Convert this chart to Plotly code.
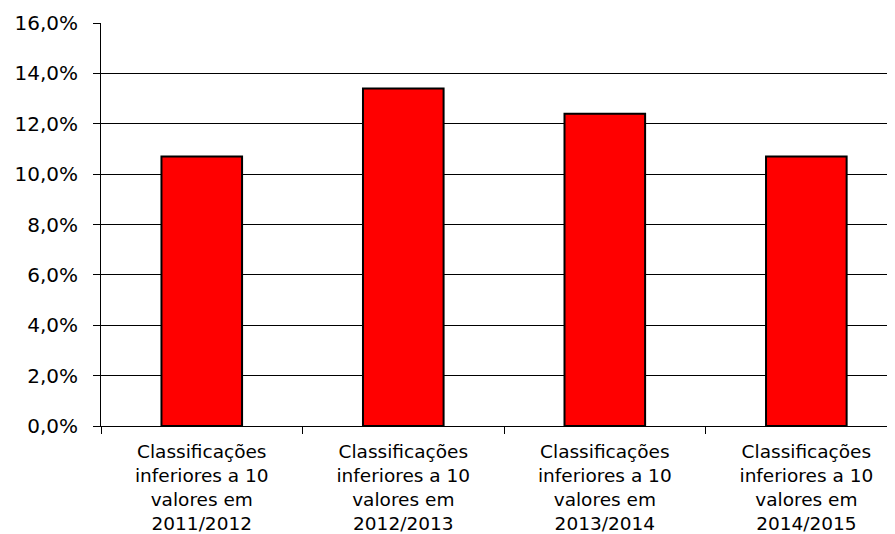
"""Bar chart: share of grades below 10 per school year."""

import plotly.graph_objects as go

categories = [
    "Classificações<br>inferiores a 10<br>valores em<br>2011/2012",
    "Classificações<br>inferiores a 10<br>valores em<br>2012/2013",
    "Classificações<br>inferiores a 10<br>valores em<br>2013/2014",
    "Classificações<br>inferiores a 10<br>valores em<br>2014/2015",
]
values = [0.107, 0.134, 0.124, 0.107]
tick_values = [0.0, 0.02, 0.04, 0.06, 0.08, 0.10, 0.12, 0.14, 0.16]
tick_labels = ["0,0%", "2,0%", "4,0%", "6,0%", "8,0%", "10,0%", "12,0%", "14,0%", "16,0%"]

fig = go.Figure(go.Bar(
    x=categories,
    y=values,
    width=0.4,
    marker=dict(color="#ff0000", line=dict(color="black", width=2)),
))

# page body adds an 8px offset, so the figure is a bit smaller than the window
fig.update_layout(
    width=887,
    height=526,
    margin=dict(l=93, r=0, t=15, b=108),
    paper_bgcolor="white",
    plot_bgcolor="white",
    showlegend=False,
    font=dict(family="DejaVu Sans, Arial, sans-serif", size=20, color="black"),
)

fig.update_xaxes(
    range=[-0.5, 3.44],
    showline=True,
    linecolor="black",
    linewidth=1,
    ticks="outside",
    tickson="boundaries",
    ticklen=7,
    tickcolor="black",
    showgrid=False,
    tickangle=0,
    tickfont=dict(size=18.5),
    ticklabelstandoff=9,
    automargin=False,
)

fig.update_yaxes(
    range=[0, 0.16],
    tickvals=tick_values,
    ticktext=tick_labels,
    showline=True,
    linecolor="black",
    linewidth=1,
    ticks="outside",
    ticklen=7,
    tickcolor="black",
    showgrid=True,
    gridcolor="black",
    gridwidth=1,
    zeroline=False,
    ticklabelstandoff=11,
    automargin=False,
)

fig.write_html("out.html")
